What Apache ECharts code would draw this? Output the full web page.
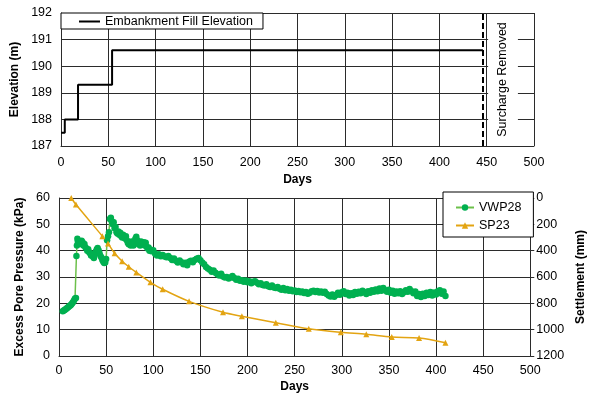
<!DOCTYPE html>
<html><head><meta charset="utf-8">
<script src="https://cdn.jsdelivr.net/npm/echarts@6/dist/echarts.min.js"></script>
<style>html,body{margin:0;padding:0;background:#fff}#c{width:595px;height:396px}</style>
</head><body><div id="c"></div>
<script>
// Top chart: embankment fill elevation
const fillDays = [0, 4, 18, 54, 446];
const fillElev = [187.5, 188.0, 189.3, 190.6, 190.6];
const surchargeDay = 446;
const surchargeLabelFrom = 451.5, surchargeLabelTo = 483;

// Bottom chart: VWP28 excess pore pressure (kPa)
const vwpDays = [4,5,6,7,8,9,10,11,12,13,14,15,16,17,18,18.5,19,19.5,20,21,22,23,24,25,26,27,28,29,30,31,32,33,34,35,36,37,38,39,40,41,42,43,44,45,46,47,48,49,50,51,52,53,54,55,56,57,58,59,60,61,62,63,64,65,66,67,68,69,70,71,72,73,74,75,76,77,78,79,80,81,82,83,84,85,86,87,88,89,90,91,92,93,94,95,96,97,98,100,102,104,106,108,110,112,114,116,118,120,122,124,126,128,130,132,134,136,138,140,142,144,146,148,150,152,154,156,158,160,162,164,166,168,170,172,174,176,178,180,182,184,186,188,190,192,194,196,198,200,202,204,206,208,210,212,214,216,218,220,222,224,226,228,230,232,234,236,238,240,242,244,246,248,250,252,254,256,258,260,262,264,266,268,270,272,274,276,278,280,282,284,286,288,290,292,294,296,298,300,302,304,306,308,310,312,314,316,318,320,322,324,326,328,330,332,334,336,338,340,342,344,346,348,350,352,354,356,358,360,362,364,366,368,370,372,374,376,378,380,382,384,386,388,390,392,394,396,398,400,402,404,406,408,410];
const vwpKpa = [17.0,17.3,17.5,17.8,18.0,18.3,18.6,19.0,19.2,19.6,20.0,20.5,21.2,21.8,22.0,38.0,42.0,44.5,43.5,42.8,43.6,42.5,43.8,43.2,42.0,42.5,41.3,40.8,40.0,40.5,39.4,39.0,38.2,38.6,37.8,37.2,38.5,39.6,40.4,41.0,40.2,39.0,38.0,37.4,36.5,35.8,35.3,35.5,36.8,44.0,45.5,47.0,52.0,52.5,51.2,50.0,50.8,48.5,49.0,47.0,46.5,47.3,46.0,46.8,45.5,45.0,46.0,45.2,44.6,45.5,44.0,43.0,42.4,43.0,42.0,43.5,42.2,42.0,43.0,44.5,45.3,44.0,42.5,43.2,42.0,43.5,42.3,42.8,43.2,42.0,43.0,41.5,40.8,41.2,40.0,40.4,39.8,40.2,38.8,38.2,38.6,37.9,38.4,37.8,37.5,38.0,37.2,36.5,37.0,36.2,35.5,36.3,35.6,34.8,35.4,34.5,35.8,36.2,35.6,36.5,36.9,37.2,36.4,35.5,34.8,33.8,33.2,32.8,32.0,32.5,31.6,31.0,30.6,31.2,30.2,29.8,30.0,29.4,29.8,30.4,29.6,29.0,29.3,28.6,28.8,28.2,28.7,28.0,28.4,27.6,28.2,28.4,27.8,27.2,27.6,27.0,26.8,27.2,26.5,26.2,26.8,26.0,25.8,26.2,25.5,25.2,25.8,25.0,25.4,24.8,25.2,24.6,24.9,24.3,24.7,24.2,24.5,23.9,24.3,23.6,24.0,24.6,24.8,24.3,24.7,24.1,24.5,24.0,24.4,23.5,23.0,22.6,23.4,22.5,23.2,24.0,23.3,24.2,24.6,23.5,24.0,23.0,23.8,23.2,24.3,23.6,24.4,23.8,24.8,24.2,23.5,24.6,24.0,25.0,24.4,25.3,24.6,25.6,24.8,25.8,25.0,24.4,25.2,24.0,24.8,23.6,24.5,23.8,24.6,23.5,24.2,25.0,24.4,25.4,24.6,23.8,24.5,22.8,23.5,22.4,23.6,22.8,24.0,23.2,24.3,23.0,24.1,23.4,24.6,25.0,23.6,24.5,22.8];

// Bottom chart: SP23 settlement (mm)
const spDays = [13, 18, 46, 52, 59, 67, 74, 82, 97, 110, 138, 174, 194, 230, 265, 299, 326, 353, 382, 410];
const spMm   = [0, 50, 290, 345, 420, 480, 522, 565, 640, 693, 785, 868, 898, 947, 993, 1020, 1035, 1056, 1063, 1099];

const xTicks = {min: 0, max: 500, interval: 50};
const FONT = 'Liberation Sans, Arial, sans-serif';
const GREEN = '#00B050', GREEN_LINE = '#6CC04A', GOLD = '#E3A412';

const lbl = {color: '#000', fontFamily: FONT, fontSize: 12.5};
const nameStyle = {color: '#000', fontFamily: FONT, fontSize: 12, fontWeight: 'bold'};
const split = {show: true, lineStyle: {color: '#2b2b2b', width: 1}};

const chart = echarts.init(document.getElementById('c'), null, {renderer: 'canvas'});
chart.setOption({
  animation: false,
  backgroundColor: '#fff',
  grid: [
    {left: 61, top: 13, width: 473, height: 133, show: false},
    {left: 59, top: 198, width: 473, height: 158, show: false}
  ],
  legend: [
    {left: 61, top: 13, orient: 'horizontal',
     data: [{name: 'Embankment Fill Elevation', icon: 'rect'}],
     itemWidth: 21, itemHeight: 2, itemGap: 2,
     padding: [2, 10, 1, 18], backgroundColor: '#fff', borderColor: '#000', borderWidth: 1,
     textStyle: {color: '#000', fontFamily: FONT, fontSize: 12.5}},
    {left: 443, top: 192, orient: 'vertical', data: ['VWP28', 'SP23'],
     itemWidth: 18, itemHeight: 8, itemGap: 5,
     padding: [9, 12, 5, 12], backgroundColor: '#fff', borderColor: '#000', borderWidth: 1,
     textStyle: {color: '#000', fontFamily: FONT, fontSize: 12.5}}
  ],
  xAxis: [
    {type: 'value', gridIndex: 0, min: xTicks.min, max: xTicks.max, interval: xTicks.interval,
     name: 'Days', nameLocation: 'middle', nameGap: 28, nameTextStyle: nameStyle,
     axisLine: {show: true, lineStyle: {color: '#2b2b2b'}}, axisTick: {show: false},
     axisLabel: Object.assign({margin: 10}, lbl), splitLine: split},
    {type: 'value', gridIndex: 1, min: xTicks.min, max: xTicks.max, interval: xTicks.interval,
     name: 'Days', nameLocation: 'middle', nameGap: 25, nameTextStyle: nameStyle,
     axisLine: {show: true, lineStyle: {color: '#2b2b2b'}}, axisTick: {show: false},
     axisLabel: Object.assign({margin: 8}, lbl), splitLine: split}
  ],
  yAxis: [
    {type: 'value', gridIndex: 0, min: 187, max: 192, interval: 1,
     name: 'Elevation (m)', nameLocation: 'middle', nameGap: 37, nameRotate: 90, nameTextStyle: nameStyle,
     axisLine: {show: true, lineStyle: {color: '#2b2b2b'}}, axisTick: {show: false},
     axisLabel: Object.assign({margin: 9}, lbl), splitLine: split},
    {type: 'value', gridIndex: 1, min: 0, max: 60, interval: 10,
     name: 'Excess Pore Pressure (kPa)', nameLocation: 'middle', nameGap: 30, nameRotate: 90, nameTextStyle: nameStyle,
     axisLine: {show: true, lineStyle: {color: '#2b2b2b'}}, axisTick: {show: false},
     axisLabel: Object.assign({margin: 9}, lbl), splitLine: split},
    {type: 'value', gridIndex: 1, position: 'right', min: 0, max: 1200, interval: 200, inverse: true,
     name: 'Settlement (mm)', nameLocation: 'middle', nameGap: 43, nameRotate: 90, nameTextStyle: nameStyle,
     axisLine: {show: true, lineStyle: {color: '#2b2b2b'}}, axisTick: {show: true, length: 4, inside: false, lineStyle: {color: '#2b2b2b'}},
     axisLabel: Object.assign({margin: 6, formatter: v => String(v)}, lbl), splitLine: {show: false}}
  ],
  series: [
    {name: 'Embankment Fill Elevation', type: 'line', xAxisIndex: 0, yAxisIndex: 0,
     step: 'end', symbol: 'none', color: '#000', lineStyle: {color: '#000', width: 2},
     data: fillDays.map((d, i) => [d, fillElev[i]]),
     markArea: {silent: true, itemStyle: {color: '#fff'},
       label: {show: true, position: 'inside', rotate: 90, color: '#000', fontFamily: FONT, fontSize: 12.5},
       data: [[{xAxis: surchargeLabelFrom, yAxis: 187.04, name: 'Surcharge Removed'}, {xAxis: surchargeLabelTo, yAxis: 191.96}]]},
     markLine: {silent: true, symbol: 'none', label: {show: false},
       lineStyle: {color: '#000', width: 2, type: [6, 3]},
       data: [{xAxis: surchargeDay}]}
    },
    {name: 'VWP28', type: 'line', xAxisIndex: 1, yAxisIndex: 1,
     symbol: 'circle', symbolSize: 6.5, showAllSymbol: true, color: GREEN,
     itemStyle: {color: GREEN}, lineStyle: {color: GREEN_LINE, width: 1.5},
     data: vwpDays.map((d, i) => [d, vwpKpa[i]])},
    {name: 'SP23', type: 'line', xAxisIndex: 1, yAxisIndex: 2, smooth: 0.3,
     symbol: 'triangle', symbolSize: 6, color: GOLD,
     itemStyle: {color: GOLD}, lineStyle: {color: GOLD, width: 1.5},
     data: spDays.map((d, i) => [d, spMm[i]])}
  ]
});
</script></body></html>
